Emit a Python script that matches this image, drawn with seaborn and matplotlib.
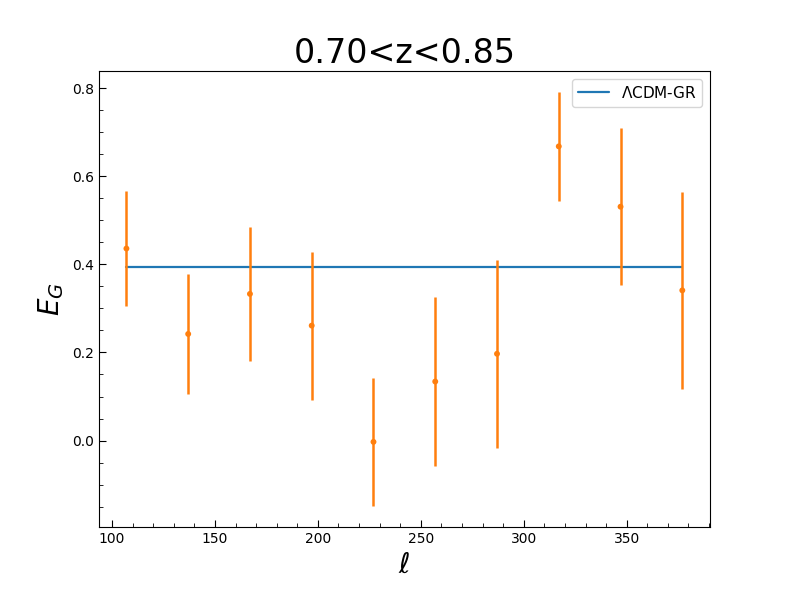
"""E_G measurements vs multipole for one redshift bin."""

import numpy as np
import pandas as pd
import matplotlib
matplotlib.use("Agg")
import matplotlib.pyplot as plt
import seaborn as sns
from matplotlib.ticker import MultipleLocator

# data
ell = [107, 137, 167, 197, 227, 257, 287, 317, 347, 377]
eg = [0.436, 0.242, 0.333, 0.261, -0.003, 0.134, 0.197, 0.668, 0.531, 0.341]
eg_err = [0.131, 0.137, 0.152, 0.168, 0.146, 0.191, 0.214, 0.124, 0.178, 0.224]
eg_lcdm = [0.394, 0.394, 0.394, 0.394, 0.394, 0.394, 0.394, 0.394, 0.394, 0.394]

title = "0.70<z<0.85"

sns.set_style("ticks")
plt.rcParams["font.family"] = ["DejaVu Sans"]
plt.rcParams["xtick.direction"] = "in"
plt.rcParams["ytick.direction"] = "in"
for key in ["text.color", "axes.labelcolor", "xtick.color", "ytick.color", "axes.edgecolor"]:
    plt.rcParams[key] = "black"

df = pd.DataFrame({"ell": ell, "eg": eg, "err": eg_err, "lcdm": eg_lcdm})
blue, orange = sns.color_palette("tab10")[:2]

fig, ax = plt.subplots(figsize=(7.89, 5.92), dpi=100)

sns.lineplot(data=df, x="ell", y="lcdm", color=blue, lw=1.6,
             label=r"$\Lambda$CDM-GR", ax=ax)
ax.errorbar(df["ell"], df["eg"], yerr=df["err"], fmt="none",
            ecolor=orange, elinewidth=1.8)
sns.scatterplot(data=df, x="ell", y="eg", color=orange, s=18,
                edgecolor="none", ax=ax, zorder=3)

ax.set_title(title, fontsize=24)
ax.set_xlabel(r"$\ell$", fontsize=20)
ax.set_ylabel(r"$E_G$", fontsize=20)
ax.xaxis.set_major_locator(MultipleLocator(50))
ax.xaxis.set_minor_locator(MultipleLocator(10))
ax.yaxis.set_major_locator(MultipleLocator(0.2))
ax.yaxis.set_minor_locator(MultipleLocator(0.05))
ax.tick_params(which="major", length=5, labelsize=10)
ax.tick_params(which="minor", length=3)
for s in ax.spines.values():
    s.set_visible(True)
ax.legend(loc="upper right", fontsize=11)

fig.subplots_adjust(left=0.125, right=0.9, bottom=0.11, top=0.88)
fig.savefig("out.png", dpi=100)
